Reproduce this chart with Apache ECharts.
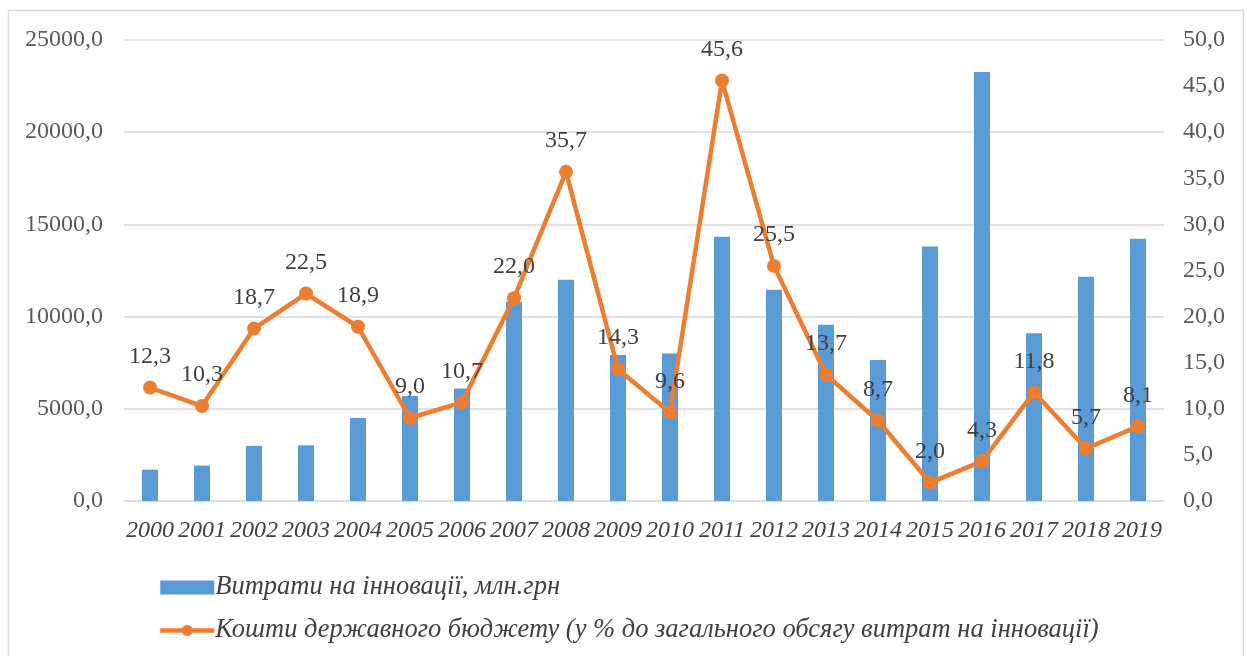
<!DOCTYPE html>
<html>
<head>
<meta charset="utf-8">
<script src="https://cdn.jsdelivr.net/npm/echarts@6/dist/echarts.min.js"></script>
<style>
    html, body { margin: 0; padding: 0; background: #fff; }
    #chart { width: 1247px; height: 656px; }
</style>
</head>
<body>
<div id="chart"></div>
<script>
const years = ['2000', '2001', '2002', '2003', '2004', '2005', '2006', '2007', '2008', '2009',
    '2010', '2011', '2012', '2013', '2014', '2015', '2016', '2017', '2018', '2019'];
const spending = [1700, 1920, 2990, 3020, 4500, 5700, 6100, 10800, 12000, 7920,
    8000, 14330, 11460, 9560, 7650, 13800, 23260, 9100, 12160, 14220];
const budgetShare = [12.3, 10.3, 18.7, 22.5, 18.9, 9.0, 10.7, 22.0, 35.7, 14.3,
    9.6, 45.6, 25.5, 13.7, 8.7, 2.0, 4.3, 11.8, 5.7, 8.1];
const barName = 'Витрати на інновації, млн.грн';
const lineName = 'Кошти державного бюджету (у % до загального обсягу витрат на інновації)';

const serif = '"Liberation Serif", "DejaVu Serif", serif';
const fmt = v => Number(v).toFixed(1).replace('.', ',');

const chart = echarts.init(document.getElementById('chart'));

chart.setOption({
    animation: false,
    textStyle: { fontFamily: serif },
    graphic: [{
        type: 'rect',
        shape: { x: 8.5, y: 10.5, width: 1235, height: 660 },
        style: { fill: 'none', stroke: '#D9D9D9', lineWidth: 1.5 },
        silent: true
    }],
    grid: {
        left: 124,
        right: 83,
        top: 40,
        bottom: 155
    },
    legend: {
        orient: 'vertical',
        left: 153,
        top: 569,
        itemGap: 16,
        itemWidth: 54,
        itemHeight: 14,
        textStyle: {
            fontFamily: serif,
            fontStyle: 'italic',
            fontSize: 26.5,
            color: '#404040',
            padding: [0, 0, 0, -4]
        },
        data: [
            { name: barName, icon: 'rect', itemStyle: { color: '#5B9BD5' } },
            {
                name: lineName,
                lineStyle: { color: '#ED7D31', width: 4.5 },
                itemStyle: { color: '#ED7D31' }
            }
        ]
    },
    xAxis: {
        type: 'category',
        data: years,
        axisLine: { lineStyle: { color: '#D9D9D9', width: 1.5 } },
        axisTick: { show: false },
        axisLabel: {
            interval: 0,
            margin: 18,
            fontFamily: serif,
            fontStyle: 'italic',
            fontSize: 24,
            color: '#404040'
        }
    },
    yAxis: [{
        type: 'value',
        min: 0,
        max: 25000,
        interval: 5000,
        axisLine: { show: false },
        axisTick: { show: false },
        splitLine: { lineStyle: { color: '#D9D9D9', width: 1.5 } },
        axisLabel: {
            margin: 21,
            fontFamily: serif,
            fontSize: 24,
            color: '#595959',
            formatter: fmt
        }
    }, {
        type: 'value',
        min: 0,
        max: 50,
        interval: 5,
        position: 'right',
        axisLine: { show: false },
        axisTick: { show: false },
        splitLine: { show: false },
        axisLabel: {
            margin: 19,
            fontFamily: serif,
            fontSize: 24,
            color: '#595959',
            formatter: fmt
        }
    }],
    series: [{
        name: barName,
        type: 'bar',
        data: spending,
        barWidth: 16,
        itemStyle: { color: '#5B9BD5' }
    }, {
        name: lineName,
        type: 'line',
        yAxisIndex: 1,
        data: budgetShare,
        symbol: 'circle',
        symbolSize: 14,
        lineStyle: { color: '#ED7D31', width: 4.5 },
        itemStyle: { color: '#ED7D31' },
        label: {
            show: true,
            position: 'top',
            distance: 12,
            fontFamily: serif,
            fontSize: 24,
            color: '#404040',
            formatter: p => fmt(p.value)
        }
    }]
});
</script>
</body>
</html>
